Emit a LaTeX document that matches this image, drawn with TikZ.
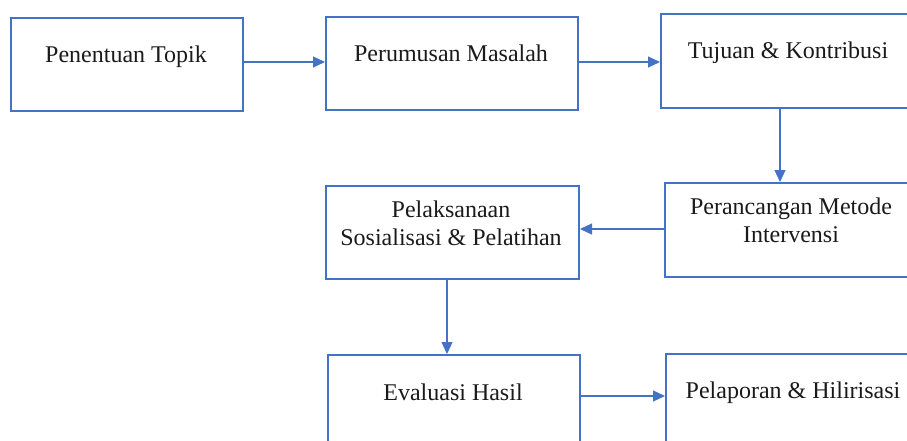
\documentclass[tikz,border=0pt]{standalone}
\usepackage{fontspec}
\setmainfont{Liberation Serif}
\usetikzlibrary{arrows.meta}
\definecolor{boxblue}{HTML}{4472C4}
\definecolor{txt}{HTML}{1A1A1A}
\tikzset{
  stepbox/.style={draw=boxblue, line width=2pt, rectangle, anchor=north west, inner sep=0pt},
  lbl/.style={text=txt, font=\fontsize{24}{28}\selectfont, align=center, inner sep=0pt, anchor=base},
  conn/.style={draw=boxblue, line width=1.2pt, -{Triangle[length=12pt,width=11pt]}}
}
\begin{document}
\begin{tikzpicture}[x=1pt,y=-1pt]
\useasboundingbox (0,0) rectangle (907,441);
\clip (0,0) rectangle (907,441);
\node[stepbox, minimum width=232pt, minimum height=93pt] (b1) at (10,17) {};
\node[stepbox, minimum width=252pt, minimum height=93pt] (b2) at (325,16) {};
\node[stepbox, minimum width=256pt, minimum height=94pt] (b3) at (660,13) {};
\node[stepbox, minimum width=254pt, minimum height=94pt] (b4) at (664,182) {};
\node[stepbox, minimum width=253pt, minimum height=93pt] (b5) at (325,185) {};
\node[stepbox, minimum width=252pt, minimum height=93pt] (b6) at (327,354) {};
\node[stepbox, minimum width=256pt, minimum height=93pt] (b7) at (665,353) {};
\node[lbl] (t1) at (126,63) {Penentuan Topik};
\node[lbl] (t2) at (451,62) {Perumusan Masalah};
\node[lbl] (t3) at (788,59) {Tujuan \& Kontribusi};
\node[lbl] (t4) at (791,242) {Perancangan Metode\\Intervensi};
\node[lbl] (t5) at (451,245) {Pelaksanaan\\Sosialisasi \& Pelatihan};
\node[lbl] (t6) at (453,400) {Evaluasi Hasil};
\node[lbl] (t7) at (793,398) {Pelaporan \& Hilirisasi};
\coordinate (a1) at (0,62);
\draw[conn] (b1.east |- a1) -- (b2.west |- a1);
\draw[conn] (b2.east |- a1) -- (b3.west |- a1);
\coordinate (a3) at (780,0);
\draw[conn] (b3.south -| a3) -- (b4.north -| a3);
\coordinate (a4) at (0,229);
\draw[conn] (b4.west |- a4) -- (b5.east |- a4);
\coordinate (a5) at (447,0);
\draw[conn] (b5.south -| a5) -- (b6.north -| a5);
\coordinate (a6) at (0,396);
\draw[conn] (b6.east |- a6) -- (b7.west |- a6);
\end{tikzpicture}
\end{document}
